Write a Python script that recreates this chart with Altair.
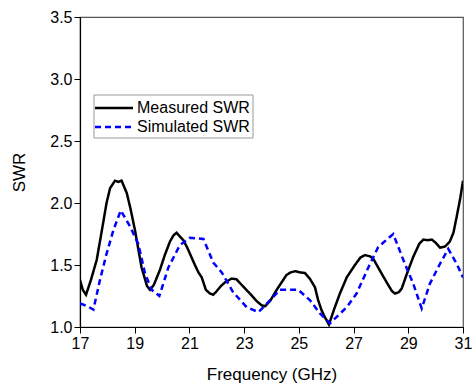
import altair as alt
import pandas as pd

series_names = ["Measured SWR", "Simulated SWR"]

meas_freq = [17.00, 17.10, 17.22, 17.40, 17.61, 17.80, 17.97, 18.10, 18.28, 18.40, 18.52, 18.71,
             18.85, 19.01, 19.25, 19.45, 19.56, 19.70, 19.92, 20.10, 20.29, 20.42, 20.53, 20.65,
             20.78, 20.92, 21.08, 21.20, 21.33, 21.45, 21.60, 21.75, 21.87, 22.00, 22.15, 22.30,
             22.54, 22.72, 22.95, 23.21, 23.45, 23.64, 23.76, 23.95, 24.19, 24.40, 24.55, 24.70,
             24.86, 25.05, 25.22, 25.40, 25.59, 25.70, 25.83, 25.95, 26.10, 26.30, 26.50, 26.75,
             27.05, 27.25, 27.42, 27.60, 27.72, 27.95, 28.21, 28.40, 28.51, 28.65, 28.76, 28.95,
             29.18, 29.40, 29.55, 29.70, 29.86, 30.00, 30.16, 30.35, 30.52, 30.65, 30.77, 30.90, 31.00]
meas_swr = [1.38, 1.30, 1.26, 1.38, 1.54, 1.78, 2.00, 2.12, 2.18, 2.17, 2.18, 2.08,
            1.95, 1.78, 1.48, 1.33, 1.30, 1.34, 1.46, 1.58, 1.69, 1.74, 1.76, 1.73,
            1.70, 1.64, 1.56, 1.50, 1.44, 1.40, 1.30, 1.27, 1.26, 1.29, 1.33, 1.36,
            1.39, 1.385, 1.33, 1.27, 1.21, 1.175, 1.167, 1.21, 1.30, 1.37, 1.42, 1.44,
            1.45, 1.44, 1.436, 1.39, 1.32, 1.22, 1.135, 1.08, 1.02, 1.15, 1.27, 1.40,
            1.50, 1.56, 1.58, 1.57, 1.55, 1.46, 1.36, 1.29, 1.27, 1.28, 1.31, 1.43,
            1.565, 1.67, 1.705, 1.70, 1.705, 1.68, 1.64, 1.65, 1.69, 1.76, 1.89, 2.04, 2.18]

sim_freq = [17.00, 17.25, 17.49, 17.73, 17.97, 18.22, 18.49, 18.83, 19.13, 19.38, 19.62, 19.90,
            20.23, 20.65, 21.02, 21.51, 21.87, 22.18, 22.60, 23.09, 23.52, 23.88, 24.31, 24.61,
            24.98, 25.41, 25.77, 26.14, 26.75, 27.11, 27.54, 27.90, 28.45, 28.82, 29.18, 29.49,
            29.79, 30.16, 30.46, 30.77, 31.00]
sim_swr = [1.19, 1.17, 1.14, 1.38, 1.59, 1.78, 1.94, 1.81, 1.67, 1.43, 1.30, 1.25,
           1.48, 1.66, 1.72, 1.71, 1.52, 1.44, 1.28, 1.16, 1.12, 1.20, 1.30, 1.30,
           1.30, 1.215, 1.11, 1.03, 1.16, 1.27, 1.48, 1.645, 1.75, 1.54, 1.35, 1.15,
           1.35, 1.51, 1.63, 1.51, 1.40]

x_ticks = [17, 19, 21, 23, 25, 27, 29, 31]
y_ticks = [1.0, 1.5, 2.0, 2.5, 3.0, 3.5]

df = pd.concat([
    pd.DataFrame({"freq": meas_freq, "swr": meas_swr, "series": series_names[0]}),
    pd.DataFrame({"freq": sim_freq, "swr": sim_swr, "series": series_names[1]}),
])

colors = ["#000000", "#0000FF"]
dashes = [[1, 0], [6, 4]]
FONT = "Liberation Sans"

lines = alt.Chart(df).mark_line(strokeWidth=2.5, clip=True).encode(
    x=alt.X("freq:Q", scale=alt.Scale(domain=[17, 31], nice=False),
            axis=alt.Axis(values=x_ticks, format="d", title="Frequency (GHz)")),
    y=alt.Y("swr:Q", scale=alt.Scale(domain=[1.0, 3.5], nice=False, zero=False),
            axis=alt.Axis(values=y_ticks, format=".1f", title="SWR")),
    color=alt.Color("series:N", scale=alt.Scale(domain=series_names, range=colors), legend=None),
    strokeDash=alt.StrokeDash("series:N", scale=alt.Scale(domain=series_names, range=dashes), legend=None),
    detail="series:N",
)

one = pd.DataFrame({"label": [series_names[0]]})
two = pd.DataFrame({"label": [series_names[1]]})

leg_box = alt.Chart(one).mark_rect(fill="white", stroke="#999999", strokeWidth=1).encode(
    x=alt.value(14), x2=alt.value(173), y=alt.value(78), y2=alt.value(121))
leg_r1 = alt.Chart(one).mark_rule(color=colors[0], strokeWidth=2.5).encode(
    x=alt.value(15), x2=alt.value(53), y=alt.value(91))
leg_r2 = alt.Chart(two).mark_rule(color=colors[1], strokeWidth=2.5, strokeDash=dashes[1]).encode(
    x=alt.value(15), x2=alt.value(53), y=alt.value(110))
leg_t1 = alt.Chart(one).mark_text(align="left", baseline="middle", fontSize=16, font=FONT).encode(
    x=alt.value(57), y=alt.value(91), text="label:N")
leg_t2 = alt.Chart(two).mark_text(align="left", baseline="middle", fontSize=16, font=FONT).encode(
    x=alt.value(57), y=alt.value(110), text="label:N")

chart = alt.layer(lines, leg_box, leg_r1, leg_r2, leg_t1, leg_t2).properties(
    width=383, height=310,
    autosize=alt.AutoSizeParams(type="none"),
    padding={"left": 80, "top": 17, "right": 9, "bottom": 61},
).configure_view(
    stroke="#555555", strokeWidth=1.2,
).configure_axis(
    grid=False, domainColor="black", domainWidth=1.2, tickColor="black", tickSize=6,
    labelFont=FONT, labelFontSize=16, labelColor="black", labelPadding=2,
    titleFont=FONT, titleFontSize=17, titleFontWeight="normal", titleColor="black",
).configure_axisX(
    titlePadding=15, labelFlush=False,
).configure_axisY(
    titlePadding=21, labelFlush=False,
)

chart.save("out.html", embed_options={"renderer": "svg", "actions": False})
